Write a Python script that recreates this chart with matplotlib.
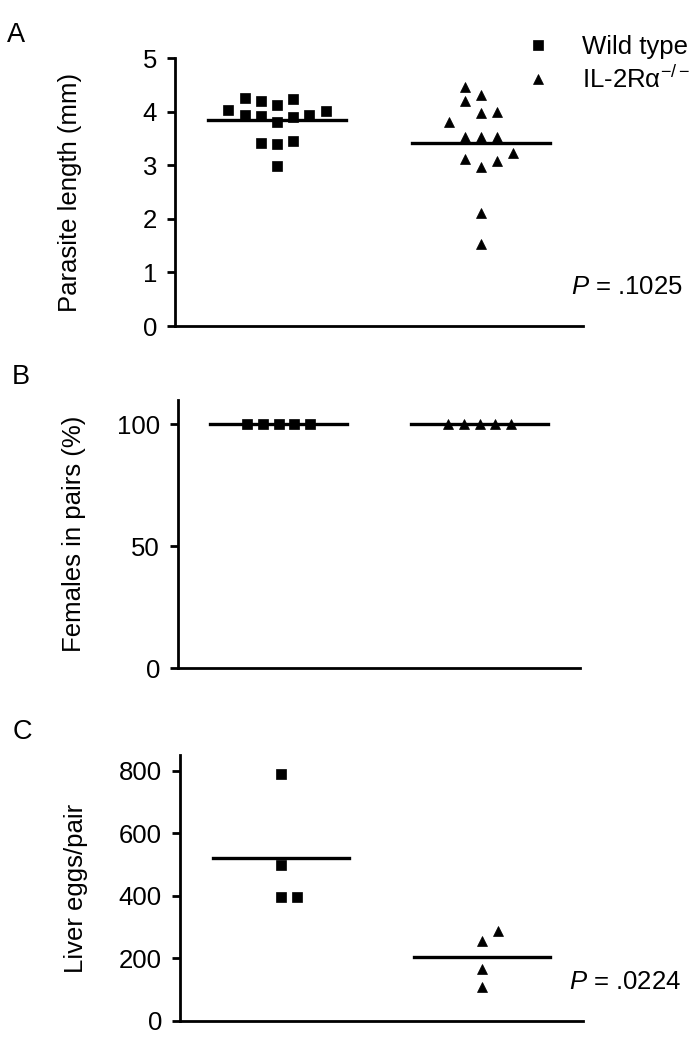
import numpy as np
import matplotlib
matplotlib.use("Agg")
import matplotlib.pyplot as plt

plt.rcParams['font.family'] = ['Liberation Sans', 'DejaVu Sans']
plt.rcParams['mathtext.fontset'] = 'custom'
plt.rcParams['mathtext.rm'] = 'Liberation Sans'
plt.rcParams['mathtext.it'] = 'Liberation Sans:italic'

# data
groups = ["Wild type", "IL-2R\u03b1$^{-/-}$"]

# A: parasite length (mm)
len_wt = [4.03, 4.25, 4.20, 4.12, 4.23, 4.01, 3.94, 3.92, 3.80, 3.89, 3.94, 3.41, 3.39, 3.46, 2.99]
len_il = [4.45, 4.31, 4.20, 3.97, 3.99, 3.80, 3.53, 3.53, 3.53, 3.12, 2.96, 3.08, 3.22, 2.10, 1.53]
# B: females in pairs (%)
pairs_wt = [100, 100, 100, 100, 100]
pairs_il = [100, 100, 100, 100, 100]
# C: liver eggs per pair
eggs_wt = [790, 497, 397, 397]
eggs_il = [255, 288, 165, 109]

p_len = "$P$ = .1025"
p_eggs = "$P$ = .0224"

# dot-plot columns (jitter) for each point
len_wt_col = [-3, -2, -1, 0, 1, 3, -2, -1, 0, 1, 2, -1, 0, 1, 0]
len_il_col = [-1, 0, -1, 0, 1, -2, -1, 0, 1, -1, 0, 1, 2, 0, 0]
pairs_wt_col = [-2, -1, 0, 1, 2]
pairs_il_col = [-2, -1, 0, 1, 2]
eggs_wt_col = [0, 0, 0, 1]
eggs_il_col = [0, 1, 0, 0]

W, H = 697, 1050
fig = plt.figure(figsize=(W / 100, H / 100), dpi=100)


def box(l, t, r, b):
    return [l / W, 1 - b / H, (r - l) / W, (b - t) / H]


step = 0.159
FS = 18.5


def panel(rect, wt, wt_col, il, il_col, ylim, yticks, ylabel, letter, ptext=None, legend=False):
    ax = fig.add_axes(rect)
    for i, (vals, cols, mk) in enumerate([(wt, wt_col, 's'), (il, il_col, '^')]):
        cx = 1 + 2 * i
        xs = cx + step * np.array(cols)
        ax.plot(xs, vals, linestyle='none', marker=mk, ms=7, color='black',
                mew=0.5, label=groups[i], clip_on=False, zorder=3)
        m = np.mean(vals)
        ax.plot([cx - 0.677, cx + 0.677], [m, m], color='black', lw=2.4, zorder=2)
    ax.set_xlim(0, 4)
    ax.set_ylim(*ylim)
    ax.set_yticks(yticks)
    ax.set_xticks([])
    for s in ['top', 'right']:
        ax.spines[s].set_visible(False)
    for s in ['left', 'bottom']:
        ax.spines[s].set_linewidth(2)
    ax.tick_params(axis='y', labelsize=FS, width=2, length=6, pad=7)
    ax.set_ylabel(ylabel, fontsize=FS)
    ax.yaxis.set_label_coords(-0.228, 0.5)
    ax.text(-0.39, 1.085, letter, transform=ax.transAxes, fontsize=FS + 1,
            ha='center', va='center')
    if ptext:
        ax.text(1.245, 0.146, ptext, transform=ax.transAxes, fontsize=FS,
                ha='right', va='center')
    if legend:
        ax.legend(loc='upper left', bbox_to_anchor=(0.833, 1.126), frameon=False,
                  fontsize=FS, handlelength=1.0, handletextpad=1.2,
                  labelspacing=0.3, borderaxespad=0, markerscale=1.0)
    return ax


panel(box(175, 58, 583, 326), len_wt, len_wt_col, len_il, len_il_col,
      (0, 5), [0, 1, 2, 3, 4, 5], "Parasite length (mm)", "A", p_len, legend=True)
panel(box(178, 400, 580, 668), pairs_wt, pairs_wt_col, pairs_il, pairs_il_col,
      (0, 110), [0, 50, 100], "Females in pairs (%)", "B")
panel(box(180, 755, 583, 1021), eggs_wt, eggs_wt_col, eggs_il, eggs_il_col,
      (0, 850), [0, 200, 400, 600, 800], "Liver eggs/pair", "C", p_eggs)

fig.savefig("out.png", dpi=100)
